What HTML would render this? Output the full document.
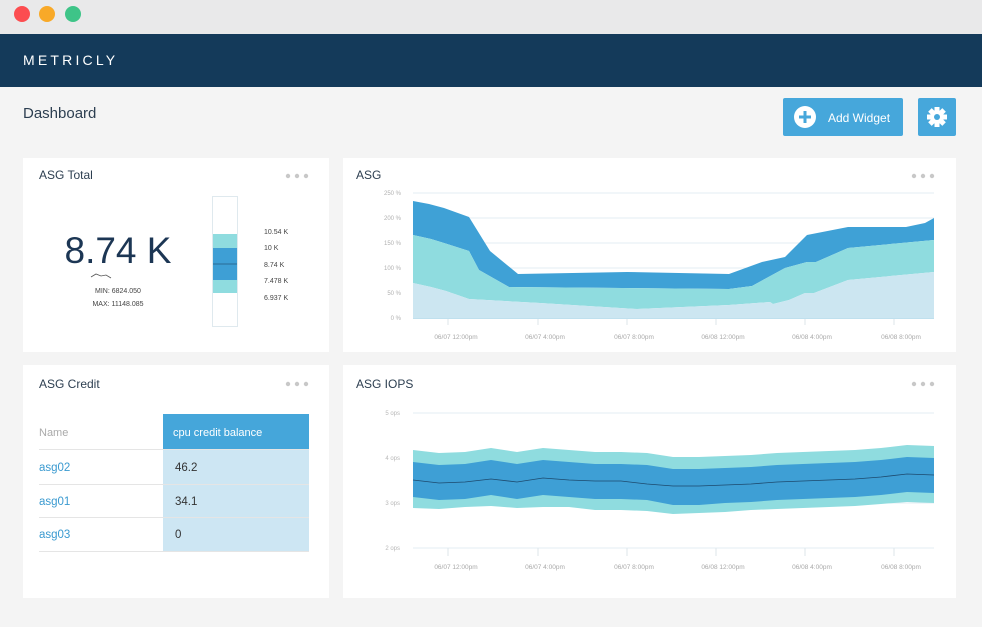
<!DOCTYPE html>
<html><head><meta charset="utf-8"><style>
body{margin:0;width:982px;height:622px;overflow:hidden;background:#f4f4f4;font-family:"Liberation Sans",sans-serif}
svg text{font-family:"Liberation Sans",sans-serif}
</style></head><body>
<svg width="982" height="622" viewBox="0 0 982 622" xmlns="http://www.w3.org/2000/svg">
<rect x="0" y="0" width="982" height="34" fill="#e9e9ea"/>
<circle cx="22" cy="14" r="8" fill="#fc4d50"/>
<circle cx="47" cy="14" r="8" fill="#f8a928"/>
<circle cx="73" cy="14" r="8" fill="#3ec488"/>
<rect x="0" y="34" width="982" height="53" fill="#143a5a"/>
<text x="23" y="65" fill="#fff" font-size="14" letter-spacing="3.2">METRICLY</text>
<text x="23" y="118" fill="#2c3e50" font-size="15">Dashboard</text>
<rect x="783" y="98" width="120" height="38" rx="2" fill="#46a7db"/>
<circle cx="805" cy="117" r="11" fill="#fff"/>
<rect x="799" y="115.5" width="12" height="3" fill="#46a7db"/><rect x="803.5" y="111" width="3" height="12" fill="#46a7db"/>
<text x="828" y="122" fill="#fff" font-size="12">Add Widget</text>
<rect x="918" y="98" width="38" height="38" rx="2" fill="#46a7db"/>
<g transform="translate(937,117)" fill="#fff">
<circle r="7"/>
<g><rect x="-2.5" y="-10" width="5" height="20"/><rect x="-2.5" y="-10" width="5" height="20" transform="rotate(45)"/><rect x="-2.5" y="-10" width="5" height="20" transform="rotate(90)"/><rect x="-2.5" y="-10" width="5" height="20" transform="rotate(135)"/></g>
<circle r="3" fill="#46a7db"/>
</g>
<!-- cards -->
<rect x="23" y="158" width="306" height="194" fill="#fff"/>
<rect x="343" y="158" width="613" height="194" fill="#fff"/>
<rect x="23" y="365" width="306" height="233" fill="#fff"/>
<rect x="343" y="365" width="613" height="233" fill="#fff"/>
<g font-size="12" fill="#2c3e50">
<text x="39" y="179">ASG Total</text>
<text x="356" y="179">ASG</text>
<text x="39" y="388">ASG Credit</text>
<text x="356" y="388">ASG IOPS</text>
</g>
<g fill="#c8c8c8">
<circle cx="288" cy="176" r="2.2"/><circle cx="297" cy="176" r="2.2"/><circle cx="306" cy="176" r="2.2"/>
<circle cx="914" cy="176" r="2.2"/><circle cx="923" cy="176" r="2.2"/><circle cx="932" cy="176" r="2.2"/>
<circle cx="288" cy="384" r="2.2"/><circle cx="297" cy="384" r="2.2"/><circle cx="306" cy="384" r="2.2"/>
<circle cx="914" cy="384" r="2.2"/><circle cx="923" cy="384" r="2.2"/><circle cx="932" cy="384" r="2.2"/>
</g>
<!-- ASG Total -->
<text x="118" y="263" text-anchor="middle" font-size="37" fill="#1c3654">8.74 K</text>
<polyline points="91,277 96,274 101,276 106,275 111,278" fill="none" stroke="#555" stroke-width="0.8"/>
<text x="118" y="293" text-anchor="middle" font-size="7" fill="#444">MIN: 6824.050</text>
<text x="118" y="306" text-anchor="middle" font-size="7" fill="#444">MAX: 11148.085</text>
<rect x="212.5" y="196.5" width="25" height="130" fill="#fff" stroke="#dfe9ee"/>
<rect x="213" y="234" width="24" height="59" fill="#8fdcdf"/>
<rect x="213" y="248" width="24" height="32" fill="#3e9fd5"/>
<line x1="213" y1="264" x2="237" y2="264" stroke="#2a6b95" stroke-width="1"/>
<g font-size="7" fill="#444">
<text x="264" y="234">10.54 K</text><text x="264" y="250">10 K</text><text x="264" y="267">8.74 K</text><text x="264" y="283">7.478 K</text><text x="264" y="300">6.937 K</text>
</g>
<!-- ASG chart -->
<g stroke="#e3eef3" stroke-width="1">
<line x1="413" y1="193" x2="934" y2="193"/><line x1="413" y1="218" x2="934" y2="218"/><line x1="413" y1="243" x2="934" y2="243"/><line x1="413" y1="268" x2="934" y2="268"/><line x1="413" y1="293" x2="934" y2="293"/>
</g>
<g font-size="6" fill="#b0b0b0" text-anchor="end">
<text x="401" y="195">250 %</text><text x="401" y="220">200 %</text><text x="401" y="245">150 %</text><text x="401" y="270">100 %</text><text x="401" y="295">50 %</text><text x="401" y="320">0 %</text>
</g>
<polygon fill="#3fa1d6" points="413,201 429,204 444,208 469,217 490,251 518,274 627,272 729,274 762,262 785,257 807,235 848,227 906,227 925,223 934,218 934,240 848,248 816,262 807,262 785,268 752,286 729,289 509,287 479,270 469,251 444,243 431,239 413,235"/>
<polygon fill="#8fdcdf" points="413,235 431,239 444,243 469,251 479,270 509,287 729,289 752,286 785,268 807,262 816,262 848,248 934,240 934,272 848,280 814,293 805,293 789,300 773,304 770,302 729,305 637,309 540,303 469,299 446,291 431,287 413,283"/>
<polygon fill="#cce6f1" points="413,283 431,287 446,291 469,299 540,303 637,309 729,305 770,302 773,304 789,300 805,293 814,293 848,280 934,272 934,318 413,318"/>
<line x1="413" y1="318.5" x2="934" y2="318.5" stroke="#bfe0ee"/>
<g stroke="#dde5ea"><line x1="448" y1="319" x2="448" y2="325"/><line x1="538" y1="319" x2="538" y2="325"/><line x1="627" y1="319" x2="627" y2="325"/><line x1="716" y1="319" x2="716" y2="325"/><line x1="805" y1="319" x2="805" y2="325"/><line x1="894" y1="319" x2="894" y2="325"/></g>
<g font-size="6.5" fill="#a8a8a8" text-anchor="middle">
<text x="456" y="339">06/07 12:00pm</text><text x="545" y="339">06/07 4:00pm</text><text x="634" y="339">06/07 8:00pm</text><text x="723" y="339">06/08 12:00pm</text><text x="812" y="339">06/08 4:00pm</text><text x="901" y="339">06/08 8:00pm</text>
</g>
<!-- IOPS -->
<g stroke="#e3eef3"><line x1="413" y1="413" x2="934" y2="413"/><line x1="413" y1="458" x2="934" y2="458"/><line x1="413" y1="503" x2="934" y2="503"/><line x1="413" y1="548" x2="934" y2="548"/></g>
<g font-size="6" fill="#b8b8b8" text-anchor="end">
<text x="400" y="415">5 ops</text><text x="400" y="460">4 ops</text><text x="400" y="505">3 ops</text><text x="400" y="550">2 ops</text>
</g>
<polygon fill="#8fdcdf" points="413,450 439,453 465,452 491,448 517,452 543,448 569,450 595,452 621,452 647,453 673,457 699,457 725,456 751,455 777,453 803,452 829,451 855,450 881,448 907,445 934,446 934,503 907,502 881,504 855,506 829,507 803,508 777,509 751,510 725,512 699,513 673,514 647,511 621,510 595,510 569,507 543,507 517,508 491,506 465,507 439,509 413,508"/>
<polygon fill="#3e9fd5" points="413,462 439,465 465,464 491,460 517,464 543,460 569,462 595,464 621,464 647,465 673,469 699,469 725,468 751,467 777,465 803,464 829,463 855,462 881,460 907,457 934,458 934,493 907,492 881,495 855,497 829,498 803,499 777,500 751,502 725,503 699,505 673,505 647,500 621,499 595,499 569,497 543,495 517,499 491,495 465,499 439,500 413,497"/>
<polyline fill="none" stroke="#1d4a6e" stroke-width="0.8" points="413,480 439,483 465,482 491,479 517,482 543,478 569,480 595,481 621,481 647,484 673,486 699,486 725,485 751,484 777,482 803,481 829,480 855,479 881,477 907,474 934,475"/>
<g stroke="#dde5ea"><line x1="448" y1="548" x2="448" y2="556"/><line x1="538" y1="548" x2="538" y2="556"/><line x1="627" y1="548" x2="627" y2="556"/><line x1="716" y1="548" x2="716" y2="556"/><line x1="805" y1="548" x2="805" y2="556"/><line x1="894" y1="548" x2="894" y2="556"/></g>
<g font-size="6.5" fill="#a8a8a8" text-anchor="middle">
<text x="456" y="569">06/07 12:00pm</text><text x="545" y="569">06/07 4:00pm</text><text x="634" y="569">06/07 8:00pm</text><text x="723" y="569">06/08 12:00pm</text><text x="812" y="569">06/08 4:00pm</text><text x="901" y="569">06/08 8:00pm</text>
</g>
<!-- ASG Credit table -->
<rect x="163" y="414" width="146" height="35" fill="#45a6da"/>
<rect x="163" y="449" width="146" height="102" fill="#cde6f3"/>
<text x="173" y="436" font-size="11" fill="#fff">cpu credit balance</text>
<text x="39" y="436" font-size="11" fill="#aaa">Name</text>
<g stroke="#e5e5e5"><line x1="39" y1="449.5" x2="309" y2="449.5"/><line x1="39" y1="484.5" x2="309" y2="484.5"/><line x1="39" y1="517.5" x2="309" y2="517.5"/><line x1="39" y1="551.5" x2="309" y2="551.5"/></g>
<g font-size="11.5">
<text x="39" y="471" fill="#3a9ad0">asg02</text><text x="175" y="471" fill="#333">46.2</text>
<text x="39" y="505" fill="#3a9ad0">asg01</text><text x="175" y="505" fill="#333">34.1</text>
<text x="39" y="538" fill="#3a9ad0">asg03</text><text x="175" y="538" fill="#333">0</text>
</g>
</svg>
</body></html>
